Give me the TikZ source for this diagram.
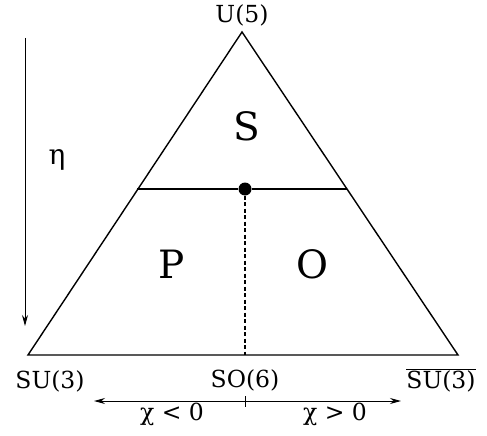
\documentclass[tikz,border=0pt]{standalone}
\usepackage{fontspec}
\setmainfont{DejaVu Serif}
\usetikzlibrary{arrows.meta,positioning}
\tikzset{
  >={Stealth[length=11pt,width=6pt]},
  side/.style={line width=1.4pt,draw=black,line join=miter},
  split/.style={line width=1.1pt,draw=black},
  lab/.style={font=\fontsize{23.5}{27}\selectfont,inner sep=1pt},
  greek/.style={font=\fontsize{28}{32}\selectfont,inner sep=1pt},
  region/.style={font=\fontsize{39}{44}\selectfont,inner sep=1pt},
  axis/.style={->,line width=1pt,draw=black},
  point/.style={circle,fill=black,inner sep=0pt,minimum size=13pt}
}
\begin{document}
\begin{tikzpicture}[x=1pt,y=-1pt]
  \useasboundingbox (0,0) rectangle (487,436);
  % corners of the triangle
  \coordinate (top) at (242,32);
  \coordinate (left) at (28,355);
  \coordinate (right) at (458,355);
  \draw[side] (top)--(left)--(right)--cycle;
  % phase boundaries
  \coordinate (sl) at (137,189); \coordinate (sr) at (347,189);
  \node[point] (crit) at (245,189) {};
  \coordinate (base) at (245,355);
  \draw[split] (sl)--(crit)--(sr);
  \draw[split,dash pattern=on 4pt off 2.5pt] (crit)--(base);
  % limits
  \node[lab] (u5) at (242,15) {U(5)};
  \node[lab] (su3) at (50,381) {SU(3)};
  \node[lab] (so6) at (245,380) {SO(6)};
  \node[lab] (su3b) at (441,380) {$\overline{\mbox{SU(3)}}$};
  % phases
  \node[region] (ps) at (247,126) {S};
  \node[region] (pp) at (172,264) {P};
  \node[region] (po) at (312,264) {O};
  % eta axis
  \coordinate (etatop) at (25,38); \coordinate (etabot) at (25,326);
  \draw[axis] (etatop)--(etabot);
  \node[greek] (eta) at (57,160) {η};
  % chi axis
  \coordinate (mid) at (245,401);
  \coordinate (chil) at (94,401); \coordinate (chir) at (401,401);
  \coordinate (ticka) at (245,396); \coordinate (tickb) at (245,407);
  \draw[axis] (mid)--(chil);
  \draw[axis] (mid)--(chir);
  \draw[line width=1pt] (ticka)--(tickb);
  \node[lab] (chineg) at (172,414) {χ < 0};
  \node[lab] (chipos) at (335,414) {χ > 0};
\end{tikzpicture}
\end{document}
